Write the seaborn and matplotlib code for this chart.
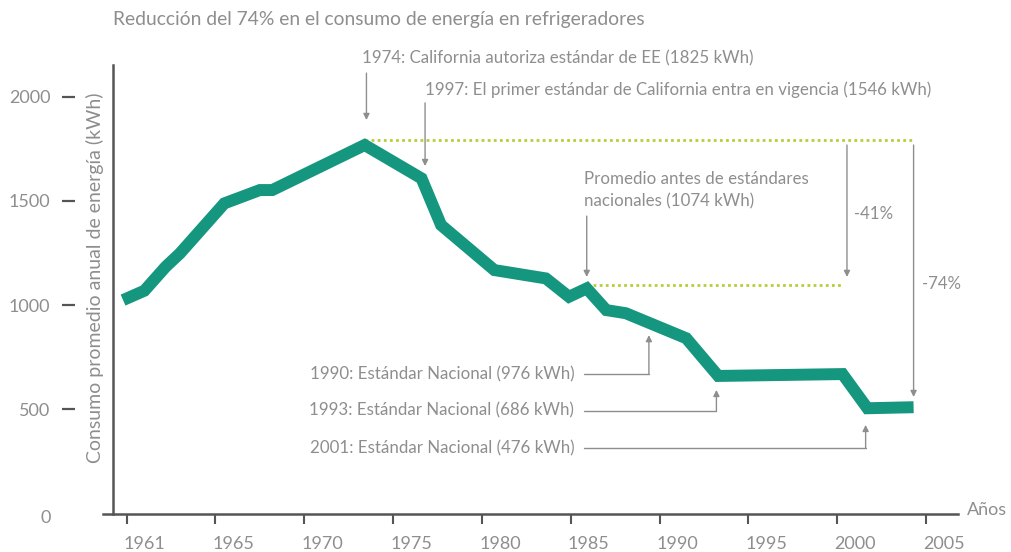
import numpy as np
import pandas as pd
import matplotlib.pyplot as plt
import matplotlib.transforms as mtransforms
import seaborn as sns

# datos (consumo anual promedio, kWh)
anios = [1959.8, 1961.0, 1962.2, 1963.0, 1965.5, 1967.5, 1968.2, 1973.4, 1976.6,
         1977.7, 1980.7, 1983.6, 1984.9, 1985.9, 1987.0, 1988.1, 1991.5, 1993.3,
         2000.3, 2001.7, 2004.3]
consumo = [1024, 1069, 1184, 1248, 1488, 1552, 1552, 1768, 1608,
           1384, 1168, 1128, 1040, 1080, 976, 961, 841, 660,
           669, 505, 510]

ticks_x = [1960, 1965, 1970, 1975, 1980, 1985, 1990, 1995, 2000, 2005]
etiquetas_x = ['1961', '1965', '1970', '1975', '1980', '1985', '1990', '1995', '2000', '2005']
ticks_y = [0, 500, 1000, 1500, 2000]

nivel_1974 = 1792
nivel_promedio = 1096

titulo = 'Reducción del 74% en el consumo de energía en refrigeradores'
eje_y = 'Consumo promedio anual de energía (kWh)'

sns.set_theme(style='white')
plt.rcParams['font.family'] = ['Lato', 'DejaVu Sans']

gris = '#8e8e8e'
gris_eje = '#555555'
verde = '#15967f'
lima = '#b5cf3a'
fs = 12.2

fig = plt.figure(figsize=(10.12, 5.52), dpi=100)
ax = fig.add_axes([103 / 1012, 38.5 / 552, 855 / 1012, 448.5 / 552])
ax.set_xlim(1958.67, 2006.8)
ax.set_ylim(0, 2152)

df = pd.DataFrame({'anio': anios, 'kwh': consumo})
sns.lineplot(data=df, x='anio', y='kwh', ax=ax, color=verde, linewidth=8.6,
             solid_joinstyle='miter', solid_capstyle='butt', zorder=3)

# ejes
for s in ['top', 'right']:
    ax.spines[s].set_visible(False)
ax.spines['left'].set_position(('data', 1959.23))
for s in ['left', 'bottom']:
    ax.spines[s].set_color(gris_eje)
    ax.spines[s].set_linewidth(1.8)
ax.set_xlabel('')
ax.set_ylabel('')

ax.set_xticks(ticks_x, etiquetas_x)
ax.tick_params(axis='x', length=7.5, width=1.5, color=gris_eje, direction='out',
               pad=9, labelsize=13, labelcolor=gris, bottom=True)
desplaza = mtransforms.ScaledTranslation(18 / 100, 0, fig.dpi_scale_trans)
for lab in ax.get_xticklabels():
    lab.set_transform(lab.get_transform() + desplaza)

ax.set_yticks(ticks_y, [str(v) for v in ticks_y])
ax.tick_params(axis='y', length=0, pad=45, labelsize=13, labelcolor=gris)
ax.get_yticklabels()[0].set_transform(ax.get_yticklabels()[0].get_transform() +
                                      mtransforms.ScaledTranslation(0, -3 / 100, fig.dpi_scale_trans))

# guiones de las marcas del eje y, separados del eje
trans = mtransforms.blended_transform_factory(fig.transFigure, ax.transData)
for v in ticks_y[1:]:
    ax.plot([62 / 1012, 75 / 1012], [v, v], transform=trans, color=gris_eje,
            lw=1.6, clip_on=False, solid_capstyle='butt')

fig.text(113 / 1012, 1 - 20 / 552, titulo, ha='left', va='center', fontsize=13.9, color=gris)
fig.text(95 / 1012, 1 - 278 / 552, eje_y, rotation=90, ha='center', va='center', fontsize=14, color=gris)
fig.text(967 / 1012, 1 - 510 / 552, 'Años', ha='left', va='center', fontsize=13, color=gris)

# lineas de referencia punteadas
ax.plot([1973.4, 2004.3], [nivel_1974, nivel_1974], color=lima, lw=2, dashes=(1, 1.2), zorder=2)
ax.plot([1985.9, 2000.3], [nivel_promedio, nivel_promedio], color=lima, lw=2, dashes=(1, 1.2), zorder=2)

flecha = dict(arrowstyle='-|>', color=gris, lw=1, mutation_scale=9, shrinkA=0, shrinkB=0)


def flecha_vertical(x, y0, y1):
    ax.annotate('', xy=(x, y1), xytext=(x, y0), arrowprops=flecha, annotation_clip=False)


def nota(x, y, s, **kw):
    ax.text(x, y, s, fontsize=fs, color=gris, clip_on=False, **kw)


nota(1973.25, 2185, '1974: California autoriza estándar de EE (1825 kWh)', ha='left', va='center')
flecha_vertical(1973.5, 2113, 1888)
nota(1976.8, 2032, '1997: El primer estándar de California entra en vigencia (1546 kWh)', ha='left', va='center')
flecha_vertical(1976.8, 1970, 1667)

nota(1985.75, 1552, 'Promedio antes de estándares\nnacionales (1074 kWh)', ha='left', va='center', linespacing=1.45)
flecha_vertical(1985.9, 1427, 1135)

flecha_vertical(2000.55, 1768, 1135)
nota(2000.95, 1437, '-41%', ha='left', va='center')
flecha_vertical(2004.3, 1768, 559)
nota(2004.8, 1101, '-74%', ha='left', va='center')

# notas de los estandares nacionales
notas_bajas = [
    ('1990: Estándar Nacional (976 kWh)', 669, 1989.4, 856),
    ('1993: Estándar Nacional (686 kWh)', 493, 1993.2, 593),
    ('2001: Estándar Nacional (476 kWh)', 313, 2001.6, 425),
]
for texto, y, xf, ytop in notas_bajas:
    nota(1985.2, y, texto, ha='right', va='center')
    ax.plot([1985.75, xf], [y, y], color=gris, lw=1, clip_on=False)
    flecha_vertical(xf, y, ytop)

fig.savefig('out.png', dpi=100)
